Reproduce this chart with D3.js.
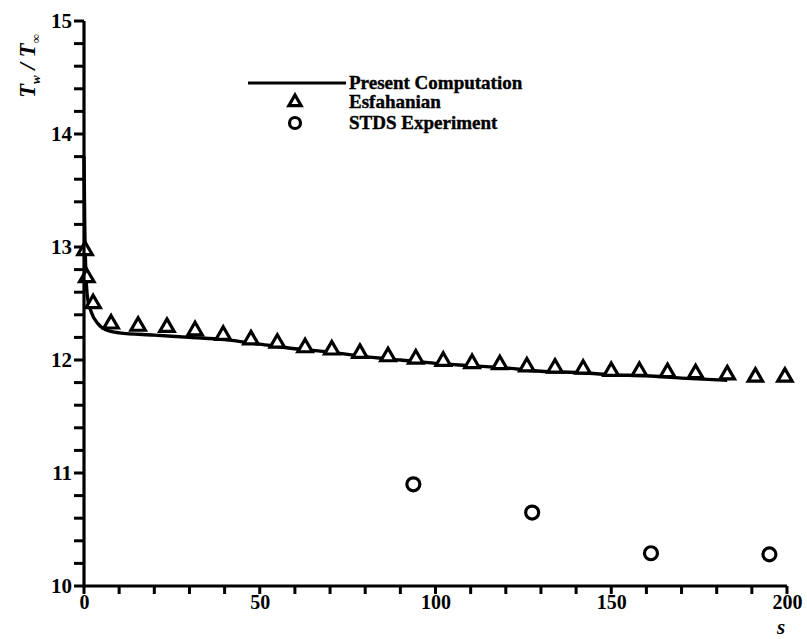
<!DOCTYPE html>
<html><head><meta charset="utf-8">
<script src="https://cdn.jsdelivr.net/npm/d3@7"></script>
<style>body{margin:0;background:#fff}</style>
</head><body>
<svg id="c" width="807" height="639"></svg>
<script>
const lineS = [0,0.2,0.5,1,2,4,6,10,20,30,40,50,60,70,80,90,100,110,120,130,140,150,160,170,183];
const lineT = [13.8,13.2,12.8,12.55,12.43,12.32,12.27,12.24,12.22,12.2,12.18,12.14,12.1,12.07,12.03,12.0,11.97,11.95,11.93,11.9,11.89,11.87,11.86,11.84,11.82];
const esfS = [0.3,0.8,2.6,7.7,15.4,23.6,31.6,39.6,47.5,55,62.9,70.5,78.5,86.5,94.4,102.2,110.4,118.3,126,134,142,150,158,166,174,183,191,199.4];
const esfT = [12.97,12.73,12.5,12.32,12.3,12.29,12.26,12.22,12.18,12.15,12.11,12.09,12.06,12.03,12.01,11.99,11.97,11.96,11.94,11.93,11.92,11.9,11.9,11.89,11.88,11.87,11.85,11.85];
const expS = [93.7,127.5,161.3,195];
const expT = [10.9,10.65,10.29,10.28];
const xTickLabels = [0,50,100,150,200];
const yTickLabels = [10,11,12,13,14,15];
const xMinor = d3.range(0,201,10);
const yMinor = d3.range(0,26).map(i=>+(10+i*0.2).toFixed(1));
const legendLabels = ["Present Computation","Esfahanian","STDS Experiment"];

const svg = d3.select("#c");
const font = "'Liberation Serif','Times New Roman',serif";
const x = d3.scaleLinear().domain([0,200]).range([84,787]);
const y = d3.scaleLinear().domain([10,15]).range([586,21]);

// axes labels
const gx = svg.append("g").attr("transform","translate(0,586)")
  .call(d3.axisBottom(x).tickValues(xTickLabels).tickFormat(d3.format("d")).tickSize(0).tickSizeOuter(0));
gx.select(".domain").remove();
gx.selectAll(".tick text").attr("font-family",font).attr("font-weight","bold")
  .attr("font-size",20).attr("fill","#000").attr("y",9).attr("dy","0.71em");

const gy = svg.append("g").attr("transform","translate(84,0)")
  .call(d3.axisLeft(y).tickValues(yTickLabels).tickFormat(d3.format("d")).tickSize(0).tickSizeOuter(0));
gy.select(".domain").remove();
gy.selectAll(".tick text").attr("font-family",font).attr("font-weight","bold")
  .attr("font-size",21).attr("fill","#000").attr("x",-12);

// line
const lineData = lineS.map((s,i)=>[s,lineT[i]]);
svg.append("path").datum(lineData)
  .attr("d", d3.line().x(d=>x(d[0])).y(d=>y(d[1])).curve(d3.curveMonotoneX))
  .attr("fill","none").attr("stroke","#000").attr("stroke-width",3.4);

// triangles
const tri = d3.symbol().type(d3.symbolTriangle).size(90);
svg.selectAll(".tri").data(esfS.map((s,i)=>[s,esfT[i]])).enter().append("path")
  .attr("d",tri).attr("transform",d=>`translate(${x(d[0])},${y(d[1])})`)
  .attr("fill","#fff").attr("stroke","#000").attr("stroke-width",3.2);

// circles
svg.selectAll(".circ").data(expS.map((s,i)=>[s,expT[i]])).enter().append("circle")
  .attr("cx",d=>x(d[0])).attr("cy",d=>y(d[1])).attr("r",6.5)
  .attr("fill","#fff").attr("stroke","#000").attr("stroke-width",3.2);

// axis lines and tick marks on top
svg.append("line").attr("x1",x(0)).attr("x2",x(200)).attr("y1",y(10)).attr("y2",y(10))
  .attr("stroke","#000").attr("stroke-width",3.2);
svg.append("line").attr("x1",x(0)).attr("x2",x(0)).attr("y1",y(10)+1.5).attr("y2",y(15))
  .attr("stroke","#000").attr("stroke-width",3.2);
const xTicks = svg.append("g").attr("class","xticks");
xMinor.forEach(d=>{
  xTicks.append("line").attr("x1",x(d)).attr("x2",x(d)).attr("y1",586).attr("y2",594)
    .style("stroke","#000").style("stroke-width","3px");
});
const yTicks = svg.append("g").attr("class","yticks");
yMinor.forEach(d=>{
  yTicks.append("line").attr("x1",74).attr("x2",84).attr("y1",y(d)).attr("y2",y(d))
    .style("stroke","#000").style("stroke-width","3px");
});

// legend
const lg = svg.append("g");
lg.append("line").attr("x1",248).attr("x2",346).attr("y1",83).attr("y2",83)
  .attr("stroke","#000").attr("stroke-width",3.2);
lg.append("path").attr("d",d3.symbol().type(d3.symbolTriangle).size(65)())
  .attr("transform","translate(295,102)").attr("fill","#fff").attr("stroke","#000").attr("stroke-width",3.2);
lg.append("circle").attr("cx",295).attr("cy",123).attr("r",5.5)
  .attr("fill","#fff").attr("stroke","#000").attr("stroke-width",3.2);
legendLabels.forEach((t,i)=>{
  lg.append("text").attr("x",349).attr("y",[89,108,129][i]).text(t)
    .attr("font-family",font).attr("font-weight","bold").attr("font-size",19).attr("fill","#000")
    .attr("stroke","#000").attr("stroke-width",0.4);
});

// y label
const yl = svg.append("text").attr("transform","translate(35,98) rotate(-90)")
  .attr("font-family",font).attr("font-weight","bold").attr("font-style","italic")
  .attr("font-size",23).attr("fill","#000");
yl.append("tspan").text("T");
yl.append("tspan").text("w").attr("font-size",13).attr("dy",5);
yl.append("tspan").text(" / T").attr("dy",-5);
yl.append("tspan").text("∞").attr("font-size",13).attr("dy",5);

// x label
svg.append("text").attr("x",781).attr("y",634).text("s")
  .attr("font-family",font).attr("font-weight","bold").attr("font-style","italic")
  .attr("font-size",21).attr("fill","#000").attr("text-anchor","middle");
</script>
</body></html>
